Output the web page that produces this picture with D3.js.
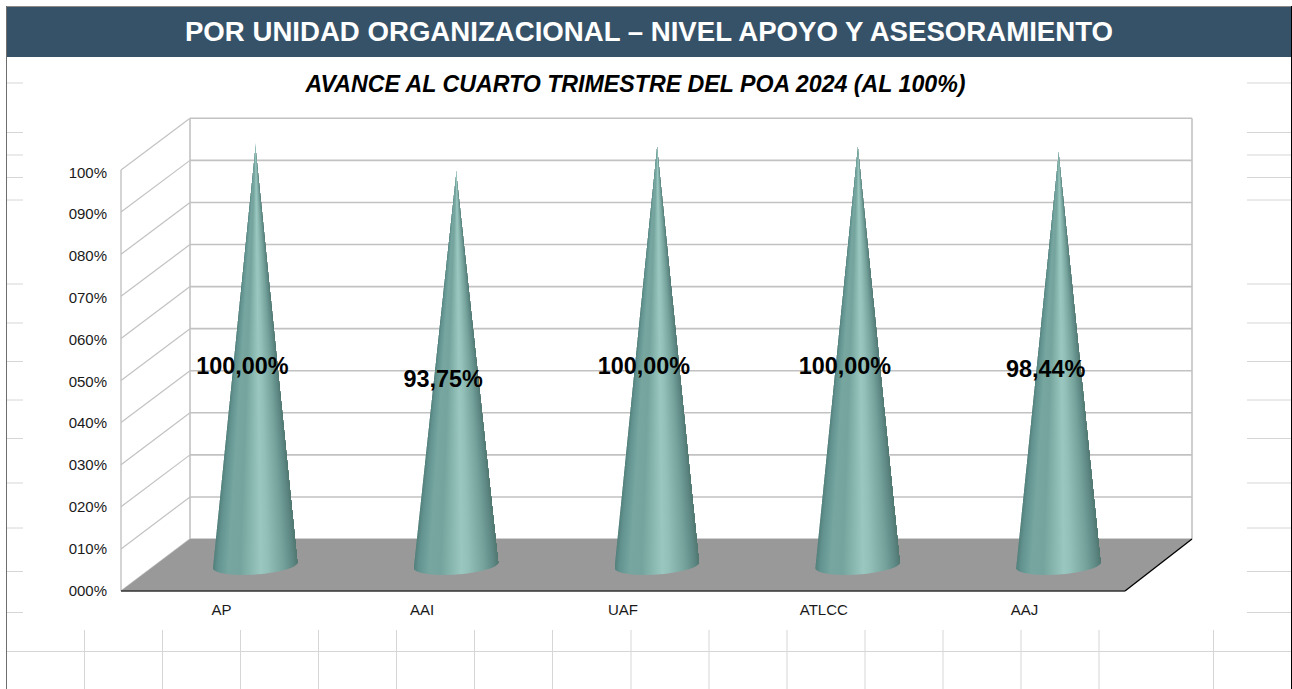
<!DOCTYPE html>
<html>
<head>
<meta charset="utf-8">
<script src="https://cdnjs.cloudflare.com/ajax/libs/d3/7.8.5/d3.min.js"></script>
<style>
html,body{margin:0;padding:0;background:#fff;overflow:hidden}
svg{display:block}
text{font-family:"Liberation Sans",Arial,sans-serif}
</style>
</head>
<body>
<svg id="c" width="1292" height="689"></svg>
<script>
const titleText = "POR UNIDAD ORGANIZACIONAL – NIVEL APOYO Y ASESORAMIENTO";
const subtitleText = "AVANCE AL CUARTO TRIMESTRE DEL POA 2024 (AL 100%)";
const categories = ["AP", "AAI", "UAF", "ATLCC", "AAJ"];
const values = [100, 93.75, 100, 100, 98.44];
const valueLabels = ["100,00%", "93,75%", "100,00%", "100,00%", "98,44%"];
const yTicks = [0, 10, 20, 30, 40, 50, 60, 70, 80, 90, 100];
const sheetRows = [83, 132.5, 155, 177.5, 200, 284, 323, 361.5, 400, 438.5, 483, 528, 571.5, 612.5];
const sheetCols = [84.5, 162.5, 240.5, 318.5, 396.5, 474.5, 552.5, 631, 709, 787, 865, 943, 1021, 1099, 1213.5];
const shadePos = [0, 0.06, 0.18, 0.32, 0.56, 0.64, 0.82, 0.95, 1];
const shadeCol = ["#517f7a", "#639390", "#76a69f", "#74a49d", "#9ac8c0", "#93c1b9", "#76a49d", "#5b8581", "#50766f"];

const svg = d3.select("#c");
const defs = svg.append("defs");

const grad = defs.append("linearGradient").attr("id", "coneShade");
grad.selectAll("stop").data(shadePos).join("stop")
  .attr("offset", d => d).attr("stop-color", (d, i) => shadeCol[i]);

// spreadsheet remnants
const sheet = svg.append("g").attr("stroke", "#d6d6d6").attr("stroke-width", 1);
sheet.selectAll("line.l").data(sheetRows).join("line").attr("class", "l").attr("x1", 7).attr("x2", 23).attr("y1", d => d).attr("y2", d => d);
sheet.selectAll("line.r").data(sheetRows).join("line").attr("class", "r").attr("x1", 1247).attr("x2", 1291).attr("y1", d => d).attr("y2", d => d);
sheet.selectAll("line.v").data(sheetCols).join("line").attr("class", "v").attr("x1", d => d).attr("x2", d => d).attr("y1", 630).attr("y2", 689);
sheet.append("line").attr("x1", 7).attr("x2", 1291).attr("y1", 651.5).attr("y2", 651.5);

// frame + header
svg.append("rect").attr("x", 7).attr("y", 7).attr("width", 1284).attr("height", 50).attr("fill", "#365269");
svg.append("line").attr("x1", 6).attr("x2", 1292).attr("y1", 6.5).attr("y2", 6.5).attr("stroke", "#8a8a8a");
svg.append("line").attr("x1", 6.5).attr("x2", 6.5).attr("y1", 6).attr("y2", 689).attr("stroke", "#6e6e6e");
svg.append("line").attr("x1", 1291.5).attr("x2", 1291.5).attr("y1", 6).attr("y2", 689).attr("stroke", "#000");

svg.append("text").attr("x", 649).attr("y", 41).attr("text-anchor", "middle")
  .attr("fill", "#fff").attr("font-weight", "bold").attr("font-size", 27.62).text(titleText);
svg.append("text").attr("x", 635.5).attr("y", 91.5).attr("text-anchor", "middle")
  .attr("fill", "#000").attr("font-weight", "bold").attr("font-style", "italic").attr("font-size", 23.2).text(subtitleText);

// scales
const frontL = 121, frontR = 1125, depthX = 69;
const yFront = d3.scaleLinear().domain([0, 100]).range([591, 170]);
const yBack = d3.scaleLinear().domain([0, 100]).range([539, 118.3]);
const yCone = d3.scaleLinear().domain([0, 100]).range([565, 143]);
const yLabel = d3.scaleLinear().domain([0, 100]).range([590.3, 172.3]);
const xFront = d3.scaleBand().domain(categories).range([frontL, frontR]);
const backL = frontL + depthX, backR = frontR + depthX - 2;

// walls
const wall = svg.append("g").attr("fill", "none").attr("stroke", "#c2c2c2");
wall.selectAll("line.h").data(yTicks).join("line").attr("class", "h")
  .attr("x1", backL).attr("x2", backR).attr("y1", d => yBack(d)).attr("y2", d => yBack(d)).attr("stroke-width", 1.6);
wall.selectAll("line.s").data(yTicks).join("line").attr("class", "s")
  .attr("x1", frontL).attr("x2", backL).attr("y1", d => yFront(d)).attr("y2", d => yBack(d)).attr("stroke-width", 1.2);
wall.append("line").attr("x1", frontL).attr("x2", frontL).attr("y1", yFront(100)).attr("y2", yFront(0)).attr("stroke-width", 1.4);
wall.append("line").attr("x1", backL).attr("x2", backL).attr("y1", yBack(100)).attr("y2", yBack(0)).attr("stroke-width", 1.6);
wall.append("line").attr("x1", backR).attr("x2", backR).attr("y1", yBack(100)).attr("y2", yBack(0)).attr("stroke-width", 1.6);

// floor
svg.append("path").attr("fill", "#999999")
  .attr("d", d3.line()([[frontL, yFront(0)], [backL, yBack(0)], [backR, yBack(0)], [frontR, yFront(0)]]) + "Z");
svg.append("line").attr("x1", frontL).attr("x2", frontR).attr("y1", 591).attr("y2", 591).attr("stroke", "#333").attr("stroke-width", 1.4);
svg.append("line").attr("x1", frontR).attr("x2", backR).attr("y1", 591).attr("y2", 539).attr("stroke", "#000").attr("stroke-width", 1.3);

// cones: 1px rows, each shaded across its own width, clipped to the silhouette
const rx = 42.6, ry = 9.5, tilt = Math.tan(4 * Math.PI / 180);
const cones = svg.append("g").selectAll("g").data(categories).join("g");
cones.each(function (c, i) {
  const cx = xFront(c) + xFront.bandwidth() / 2 + depthX / 2 - 0.4;
  const cy = yCone(0), top = yCone(values[i]);
  const thetas = d3.range(0, 61).map(k => Math.PI - k * Math.PI / 60);
  const outline = [[cx, top]].concat(thetas.map(th =>
    [cx + rx * Math.cos(th), cy + ry * Math.sin(th) - rx * Math.cos(th) * tilt]));
  const id = "coneClip" + i;
  defs.append("clipPath").attr("id", id).append("path").attr("d", d3.line()(outline) + "Z");
  const g = d3.select(this).attr("clip-path", `url(#${id})`);
  g.selectAll("rect").data(d3.range(Math.floor(top), Math.ceil(cy + ry + 4))).join("rect")
    .attr("x", y => cx - rx * Math.min(1, Math.max(0.004, (y + 0.5 - top) / (cy - top))))
    .attr("width", y => 2 * rx * Math.min(1, Math.max(0.004, (y + 0.5 - top) / (cy - top))))
    .attr("y", y => y).attr("height", 1.02)
    .attr("shape-rendering", "crispEdges")
    .attr("fill", "url(#coneShade)");
});

// data labels
svg.append("g").selectAll("text").data(categories).join("text")
  .attr("x", c => xFront(c) + xFront.bandwidth() / 2 + 21)
  .attr("y", (c, i) => (yCone(0) + yCone(values[i])) / 2 + 20)
  .attr("text-anchor", "middle").attr("font-weight", "bold").attr("font-size", 23.4).attr("fill", "#000")
  .text((c, i) => valueLabels[i]);

// axes
const yAxis = d3.axisLeft(yLabel).tickValues(yTicks).tickSize(0).tickPadding(0)
  .tickFormat(d => String(d).padStart(3, "0") + "%");
const gy = svg.append("g").attr("transform", "translate(107,0)").call(yAxis);
gy.select(".domain").remove();
gy.selectAll("text").attr("font-size", 15).attr("font-family", '"Liberation Sans",Arial,sans-serif').attr("fill", "#1a1a1a");

const xAxis = d3.axisBottom(xFront).tickSize(0).tickPadding(0);
const gx = svg.append("g").attr("transform", "translate(0,604.5)").call(xAxis);
gx.select(".domain").remove();
gx.selectAll("text").attr("font-size", 15).attr("font-family", '"Liberation Sans",Arial,sans-serif').attr("fill", "#1a1a1a");
</script>
</body>
</html>
